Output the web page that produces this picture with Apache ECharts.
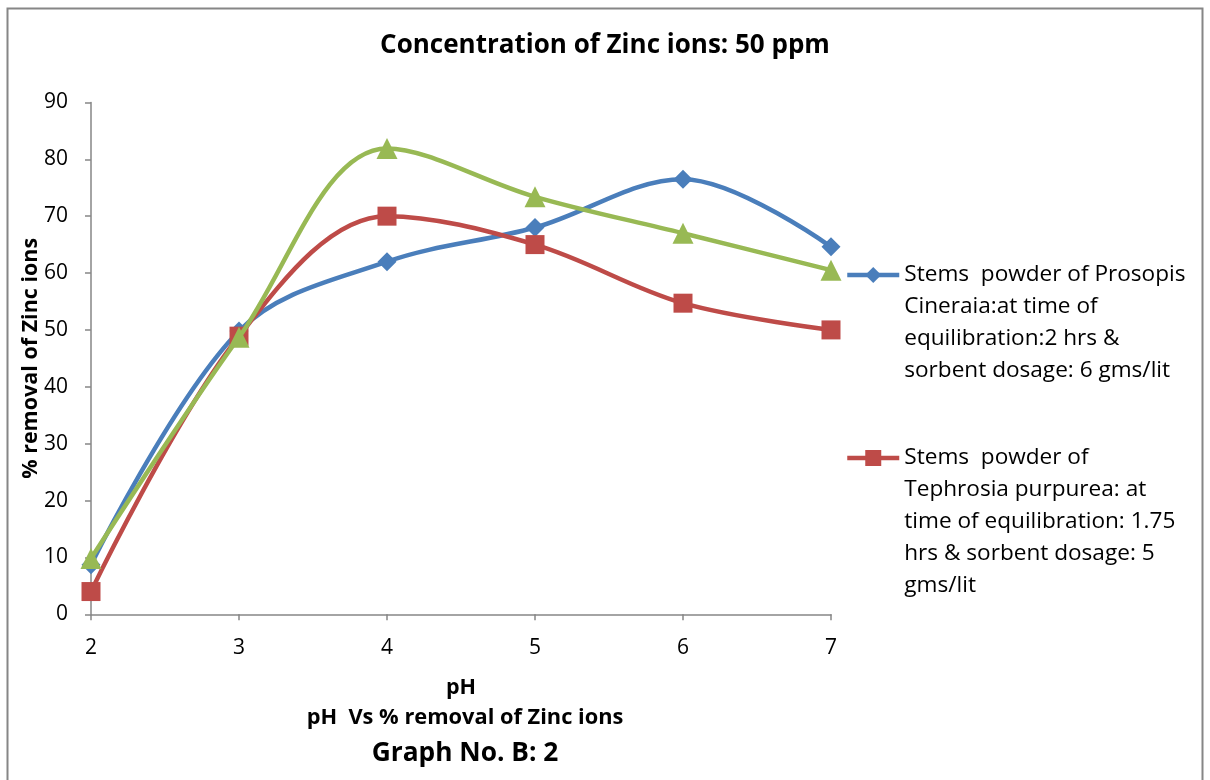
<!DOCTYPE html>
<html>
<head>
<meta charset="utf-8">
<script src="https://cdn.jsdelivr.net/npm/echarts@6/dist/echarts.min.js"></script>
<style>
  html, body { margin: 0; padding: 0; background: #fff; }
  #chart { width: 1210px; height: 780px; }
</style>
</head>
<body>
<div id="chart"></div>
<script>
// pH values on the x axis
var phValues = [2, 3, 4, 5, 6, 7];
// % removal of Zinc ions
var prosopisData = [8.7, 49.8, 62, 68, 76.5, 64.6];
var tephrosiaData = [4, 48.9, 70, 65, 54.7, 50];
var thirdData = [9.8, 48.7, 81.9, 73.4, 67, 60.5];

var prosopisName = 'Stems  powder of Prosopis\nCineraia:at time of\nequilibration:2 hrs &\nsorbent dosage: 6 gms/lit';
var tephrosiaName = 'Stems  powder of\nTephrosia purpurea: at\ntime of equilibration: 1.75\nhrs & sorbent dosage: 5\ngms/lit';

function pairs(ys) {
    var out = [];
    for (var i = 0; i < phValues.length; i++) {
        out.push([phValues[i], ys[i]]);
    }
    return out;
}

// legend text is centred on the icon, so pad with blank lines above
// to put the first line level with the icon
function padLines(name) {
    var n = name.split('\n').length;
    var s = '';
    for (var i = 1; i < n; i++) s += ' \n';
    return s + name;
}

var FONT = '"Open Sans"';
var LH = 32;
var chart = echarts.init(document.getElementById('chart'));

var option = {
    animation: false,
    textStyle: { fontFamily: FONT },
    graphic: [{
        type: 'rect',
        shape: { x: 7.5, y: 8.5, width: 1195, height: 800 },
        style: { fill: 'none', stroke: '#868686', lineWidth: 2 }
    }],
    title: [{
        text: 'Concentration of Zinc ions: 50 ppm',
        left: 'center',
        top: 28,
        textStyle: { fontFamily: FONT, fontSize: 26, fontWeight: 'bold', color: '#000' }
    }, {
        text: 'pH  Vs % removal of Zinc ions',
        left: 460, top: 702,
        textAlign: 'center',
        textStyle: { fontFamily: FONT, fontSize: 21.8, fontWeight: 'bold', color: '#000' }
    }, {
        text: 'Graph No. B: 2',
        left: 460, top: 736,
        textAlign: 'center',
        textStyle: { fontFamily: FONT, fontSize: 26.3, fontWeight: 'bold', color: '#000' }
    }],
    legend: [{
        data: [prosopisName],
        formatter: padLines,
        left: 845,
        top: 275 - 3.5 * LH,
        padding: 0,
        itemWidth: 52,
        itemHeight: 20,
        lineStyle: { width: 4.5 },
        textStyle: { fontFamily: FONT, fontSize: 22.6, color: '#000', lineHeight: LH }
    }, {
        data: [tephrosiaName],
        formatter: padLines,
        left: 845,
        top: 458 - 4.5 * LH,
        padding: 0,
        itemWidth: 52,
        itemHeight: 20,
        lineStyle: { width: 4.5 },
        textStyle: { fontFamily: FONT, fontSize: 22.6, color: '#000', lineHeight: LH }
    }],
    grid: { left: 91, right: 379, top: 102.4, bottom: 165.7 },
    xAxis: {
        type: 'value',
        min: 2, max: 7, interval: 1,
        name: 'pH',
        nameLocation: 'middle',
        nameGap: 63,
        nameTextStyle: { fontFamily: FONT, fontSize: 21.5, fontWeight: 'bold', color: '#000' },
        axisLine: { lineStyle: { color: '#868686', width: 1.5 } },
        axisTick: { length: 6, lineStyle: { color: '#868686', width: 1.5 } },
        axisLabel: { margin: 23, fontFamily: FONT, fontSize: 21, color: '#000' },
        splitLine: { show: false }
    },
    yAxis: {
        type: 'value',
        min: 0, max: 90, interval: 10,
        name: '% removal of Zinc ions',
        nameLocation: 'middle',
        nameGap: 49,
        nameMoveOverlap: false,
        nameTextStyle: { fontFamily: FONT, fontSize: 21.5, fontWeight: 'bold', color: '#000' },
        axisLine: { show: true, lineStyle: { color: '#868686', width: 1.5 } },
        axisTick: { show: true, length: 6, lineStyle: { color: '#868686', width: 1.5 } },
        axisLabel: { margin: 23, fontFamily: FONT, fontSize: 21, color: '#000' },
        splitLine: { show: false }
    },
    series: [{
        name: prosopisName,
        type: 'line',
        data: pairs(prosopisData),
        smooth: 0.35,
        symbol: 'diamond',
        symbolSize: 19,
        lineStyle: { color: '#4A7EBB', width: 4.5 },
        itemStyle: { color: '#4A7EBB' },
        z: 3
    }, {
        name: tephrosiaName,
        type: 'line',
        data: pairs(tephrosiaData),
        smooth: 0.35,
        symbol: 'rect',
        symbolSize: 19,
        lineStyle: { color: '#BE4B48', width: 4.5 },
        itemStyle: { color: '#BE4B48' },
        z: 4
    }, {
        name: 'series3',
        type: 'line',
        data: pairs(thirdData),
        smooth: 0.35,
        symbol: 'triangle',
        symbolSize: 21,
        lineStyle: { color: '#98B954', width: 4.5 },
        itemStyle: { color: '#98B954' },
        z: 5
    }]
};
chart.setOption(option);
</script>
</body>
</html>
